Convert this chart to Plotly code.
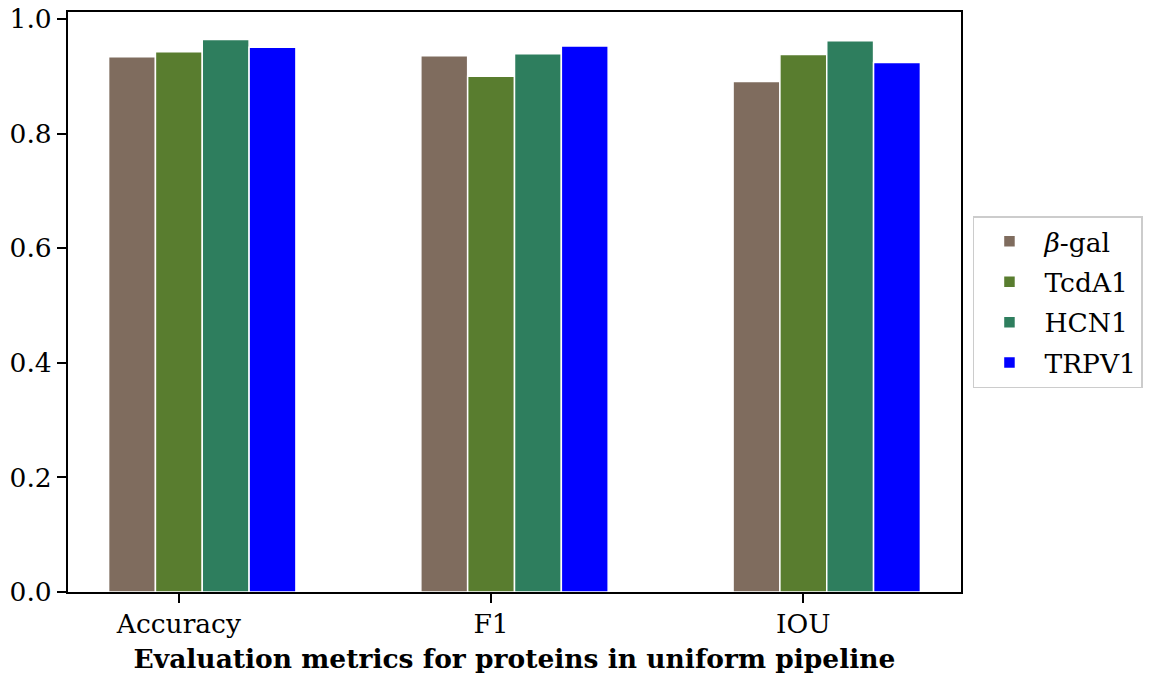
import plotly.graph_objects as go

metrics = ["Accuracy", "F1", "IOU"]
proteins = ["<i>β</i>-gal", "TcdA1", "HCN1", "TRPV1"]
colors = ["#7f6c5e", "#597d2f", "#2e7e5e", "#0000ff"]
values = {
    "<i>β</i>-gal": [0.934, 0.936, 0.891],
    "TcdA1": [0.943, 0.900, 0.938],
    "HCN1": [0.964, 0.9395, 0.962],
    "TRPV1": [0.9505, 0.953, 0.924],
}
bar_width = 0.15

font = "DejaVu Serif"
fs = 26.5

fig = go.Figure()
for k, (p, c) in enumerate(zip(proteins, colors)):
    fig.add_trace(go.Bar(
        x=metrics, y=values[p], name=p, legendgroup=f"g{k}",
        marker=dict(color=c, line=dict(color="white", width=1.5)),
        width=bar_width, offset=(k - 1) * bar_width - bar_width / 2,
    ))

ymax = max(max(v) for v in values.values()) * 1.05

fig.update_layout(
    width=1154, height=674,
    margin=dict(l=60, r=201, t=3.5, b=90),
    plot_bgcolor="white", paper_bgcolor="white",
    font=dict(family=font, size=fs, color="black"),
    barmode="overlay",
    showlegend=True,
    legend=dict(
        x=1.0134, y=0.50, xanchor="left", yanchor="middle",
        bordercolor="#cccccc", borderwidth=1.5, bgcolor="white",
        font=dict(family=font, size=fs), itemwidth=60, tracegroupgap=3,
    ),
    xaxis=dict(
        type="category", range=[-0.355, 2.505], automargin=False,
        showline=True, linecolor="black", linewidth=2, mirror=True,
        ticks="outside", ticklen=9, tickwidth=2, tickcolor="black",
        ticklabelstandoff=-2,
        showgrid=False, zeroline=False,
        title=dict(text="<b>Evaluation metrics for proteins in uniform pipeline</b>",
                   font=dict(family=font, size=fs), standoff=12),
    ),
    yaxis=dict(
        range=[0, ymax], tickvals=[0, 0.2, 0.4, 0.6, 0.8, 1.0], automargin=False,
        tickformat=".1f", ticklabeloverflow="allow",
        showline=True, linecolor="black", linewidth=2, mirror=True,
        ticks="outside", ticklen=9, tickwidth=2, tickcolor="black",
        showgrid=False, zeroline=False,
    ),
)

fig.write_html("out.html")
